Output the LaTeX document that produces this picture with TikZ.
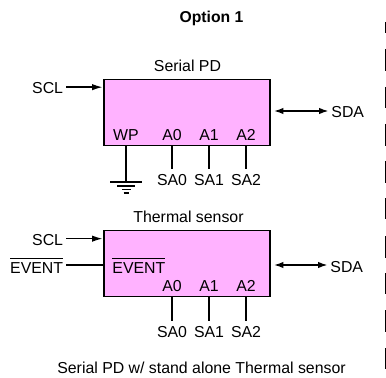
\documentclass[tikz,border=0pt]{standalone}
\usepackage{fontspec}
\setmainfont{Liberation Sans}
\usetikzlibrary{arrows.meta}
\definecolor{chipfill}{RGB}{255,178,255}
\newcommand{\eventbar}{$\overline{\mbox{\rule{0pt}{10pt}EVENT}}$}
\tikzset{
    chip/.style={draw, line width=1.4pt, fill=chipfill, minimum width=125pt, minimum height=49.5pt, inner sep=0pt},
    pin/.style={font=\fontsize{11.9}{14}\selectfont, inner sep=0pt, outer xsep=2.2pt},
    sapin/.style={pin, outer ysep=3.8pt},
    wire/.style={line width=1.1pt},
    sig/.style={line width=1.1pt, -{Latex[length=8pt,width=4.8pt]}},
    bisig/.style={line width=1.1pt, {Latex[length=7pt,width=4.8pt]}-{Latex[length=7pt,width=4.8pt]}}
}
\begin{document}
\begin{tikzpicture}[x=0.75pt,y=-0.75pt]
    \useasboundingbox (0,0) rectangle (386,378);

    \node[pin, font=\fontsize{11.8}{14}\selectfont\bfseries] (title) at (211.5,18) {Option 1};

    % serial PD
    \node[chip] (spd) at (187,112.5) {};
    \node[pin] (spdname) at (187.5,66) {Serial PD};
    \node[pin, anchor=east] (sclA) at (66,88.5) {SCL};
    \draw[sig] ([yshift=1pt]sclA.east) -- ([yshift=1pt]sclA.east -| spd.west);
    \node[pin, anchor=west] (sdaA) at (328.5,112.5) {SDA};
    \coordinate (sdaAout) at (274,111);
    \draw[bisig] (sdaAout) -- (sdaAout -| sdaA.west);
    \node[pin] (wp) at (126,135) {WP};
    \node[pin] (a0A) at (172,135) {A0};
    \node[pin] (a1A) at (209,135) {A1};
    \node[pin] (a2A) at (246,135) {A2};
    \node[sapin] (sa0A) at (172,180) {SA0};
    \node[sapin] (sa1A) at (209,180) {SA1};
    \node[sapin] (sa2A) at (246,180) {SA2};
    \coordinate (gnd) at (126,182);
    \draw[wire] (spd.south -| wp) -- (gnd);
    \draw[wire] (spd.south -| a0A) -- (sa0A.north);
    \draw[wire] (spd.south -| a1A) -- (sa1A.north);
    \draw[wire] (spd.south -| a2A) -- (sa2A.north);
    \draw[wire] (110,182) -- (142,182);
    \draw[wire] (117,186) -- (135,186);
    \draw[wire] (122,189.5) -- (131,189.5);
    \draw[wire] (123.5,193) -- (129,193);

    % thermal sensor
    \node[chip] (ts) at (187,263.5) {};
    \node[pin] (tsname) at (188.5,217) {Thermal sensor};
    \node[pin, anchor=east] (sclB) at (66,240) {SCL};
    \draw[sig] ([yshift=1pt]sclB.east) -- ([yshift=1pt]sclB.east -| ts.west);
    \node[pin, anchor=east] (evtout) at (66,265) {\eventbar};
    \node[pin, anchor=west] (evtin) at (109.5,265) {\eventbar};
    \draw[wire] (evtout.east) -- (evtout.east -| ts.west);
    \node[pin, anchor=west] (sdaB) at (327.5,267) {SDA};
    \coordinate (sdaBout) at (274,265);
    \draw[bisig] (sdaBout) -- (sdaBout -| sdaB.west);
    \node[pin] (a0B) at (172,286) {A0};
    \node[pin] (a1B) at (209,286) {A1};
    \node[pin] (a2B) at (246,286) {A2};
    \node[sapin] (sa0B) at (172,332) {SA0};
    \node[sapin] (sa1B) at (209,332) {SA1};
    \node[sapin] (sa2B) at (246,332) {SA2};
    \draw[wire] (ts.south -| a0B) -- (sa0B.north);
    \draw[wire] (ts.south -| a1B) -- (sa1B.north);
    \draw[wire] (ts.south -| a2B) -- (sa2B.north);

    \node[pin] (caption) at (201.5,368) {Serial PD w/ stand alone Thermal sensor};

    % bars along the right edge
    \foreach \ya/\yb in {22/33,49/71,87/108,124/146,161/183,198/219,236/258,273/294,310/332,348/369}
        \draw[line width=0.8pt] (385.5,\ya) -- (385.5,\yb);

\end{tikzpicture}
\end{document}
